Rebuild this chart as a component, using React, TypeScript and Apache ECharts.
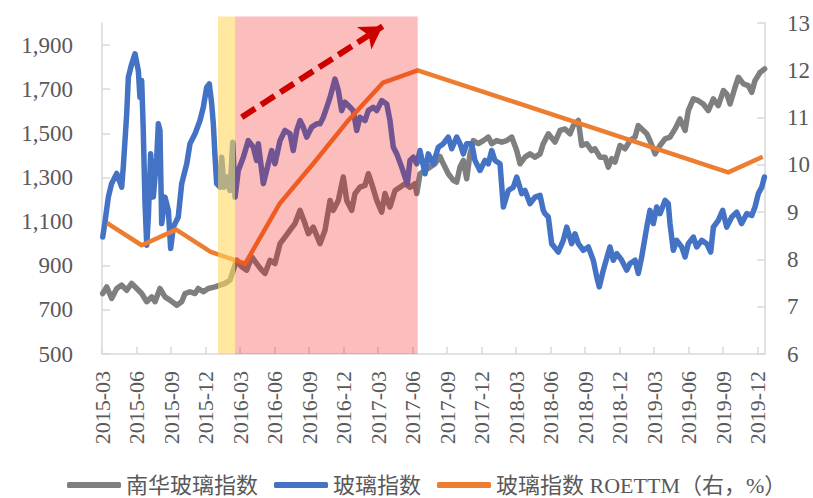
import React, { useEffect, useRef } from 'react';
import * as echarts from 'echarts';

// x positions are month offsets from 2015-03 (0 = 2015-03, 3 = 2015-06, ...)
const xTickMonths = [0, 3, 6, 9, 12, 15, 18, 21, 24, 27, 30, 33, 36, 39, 42, 45, 48, 51, 54, 57];
const xTickLabels = [
  '2015-03', '2015-06', '2015-09', '2015-12', '2016-03', '2016-06', '2016-09', '2016-12',
  '2017-03', '2017-06', '2017-09', '2017-12', '2018-03', '2018-06', '2018-09', '2018-12',
  '2019-03', '2019-06', '2019-09', '2019-12',
];
const leftTicks = [500, 700, 900, 1100, 1300, 1500, 1700, 1900];
const rightTicks = [6, 7, 8, 9, 10, 11, 12, 13];

const seriesNames = ['南华玻璃指数', '玻璃指数', '玻璃指数 ROETTM（右，%）'];

const nanhuaGlass: [number, number][] = [
  [0.06, 774], [0.41, 804], [0.84, 752], [1.28, 797], [1.71, 812], [2.15, 789], [2.58, 820],
  [3.02, 797], [3.45, 774], [3.89, 737], [4.32, 759], [4.61, 737], [5.04, 797], [5.48, 759],
  [5.91, 744], [6.5, 721], [6.93, 737], [7.22, 774], [7.65, 782], [8.09, 774], [8.37, 797],
  [8.81, 782], [9.24, 797], [9.83, 804], [10.26, 812], [10.7, 820], [11.13, 835], [11.42, 880],
  [11.71, 925], [12.15, 895], [12.58, 880], [13.02, 940], [13.45, 910], [13.89, 880], [14.17, 865],
  [14.61, 925], [15.04, 910], [15.48, 1000], [15.91, 1030], [16.35, 1061], [16.78, 1091],
  [17.22, 1151], [17.65, 1091], [17.94, 1045], [18.37, 1075], [18.96, 1000], [19.39, 1061],
  [19.83, 1196], [20.11, 1151], [20.55, 1196], [20.98, 1302], [21.28, 1196], [21.71, 1151],
  [22.0, 1227], [22.43, 1256], [22.87, 1264], [23.16, 1317], [23.45, 1272], [23.89, 1196],
  [24.32, 1143], [24.61, 1227], [25.04, 1166], [25.48, 1241], [25.91, 1256], [26.35, 1272],
  [26.78, 1256], [27.22, 1272], [27.37, 1227], [27.65, 1317], [28.09, 1332], [28.52, 1347],
  [28.96, 1362], [29.39, 1395], [29.68, 1362], [30.11, 1317], [30.55, 1287], [30.84, 1279],
  [31.13, 1347], [31.42, 1377], [31.71, 1294], [32.0, 1407], [32.29, 1467], [32.72, 1453],
  [33.16, 1467], [33.59, 1483], [33.89, 1453], [34.32, 1467], [34.76, 1460], [35.19, 1467],
  [35.63, 1483], [36.06, 1422], [36.35, 1362], [36.78, 1392], [37.22, 1407], [37.65, 1392],
  [38.09, 1407], [38.37, 1453], [38.81, 1498], [39.39, 1460], [39.83, 1513], [40.26, 1520],
  [40.7, 1498], [40.98, 1535], [41.42, 1558], [41.71, 1445], [42.15, 1453], [42.58, 1422],
  [42.87, 1430], [43.3, 1392], [43.74, 1392], [44.03, 1347], [44.32, 1385], [44.61, 1370],
  [45.04, 1445], [45.48, 1430], [45.91, 1467], [46.35, 1483], [46.63, 1535], [47.07, 1513],
  [47.37, 1498], [47.65, 1467], [48.09, 1407], [48.52, 1445], [48.96, 1475], [49.39, 1483],
  [49.83, 1520], [50.26, 1565], [50.7, 1513], [50.98, 1603], [51.42, 1656], [51.85, 1648],
  [52.28, 1633], [52.72, 1603], [53.16, 1656], [53.59, 1626], [54.03, 1694], [54.32, 1679],
  [54.61, 1633], [55.04, 1708], [55.33, 1754], [55.77, 1724], [56.2, 1716], [56.5, 1686],
  [56.78, 1739], [57.22, 1776], [57.62, 1792],
];

const glassIndex: [number, number][] = [
  [0.06, 1030], [0.26, 1098], [0.55, 1211], [0.84, 1273], [1.28, 1318], [1.71, 1256], [1.85, 1347],
  [2.15, 1590], [2.29, 1754], [2.58, 1814], [2.87, 1860], [3.16, 1784], [3.3, 1663], [3.45, 1739],
  [3.59, 1513], [3.74, 1183], [3.89, 993], [4.03, 1121], [4.23, 1407], [4.46, 1211], [4.76, 1392],
  [4.9, 1543], [5.04, 1513], [5.19, 1091], [5.48, 1211], [5.77, 1151], [5.97, 978], [6.2, 1075],
  [6.63, 1121], [6.93, 1272], [7.37, 1362], [7.65, 1453], [8.09, 1498], [8.52, 1558], [8.81, 1618],
  [9.1, 1708], [9.33, 1724], [9.54, 1633], [9.68, 1543], [9.83, 1392], [9.97, 1272], [10.26, 1256],
  [10.41, 1392], [10.61, 1256], [10.84, 1302], [11.13, 1241], [11.37, 1460], [11.57, 1211],
  [11.85, 1332], [12.29, 1392], [12.72, 1467], [13.16, 1437], [13.45, 1377], [13.59, 1453],
  [14.03, 1272], [14.46, 1362], [14.76, 1422], [15.04, 1362], [15.48, 1467], [15.91, 1513],
  [16.35, 1498], [16.63, 1422], [16.93, 1513], [17.22, 1558], [17.5, 1528], [17.8, 1483],
  [18.23, 1528], [18.67, 1543], [18.96, 1543], [19.24, 1573], [19.54, 1618], [19.83, 1663],
  [20.26, 1746], [20.55, 1694], [20.84, 1603], [21.13, 1641], [21.57, 1618], [21.85, 1603],
  [22.15, 1513], [22.43, 1573], [22.87, 1558], [23.16, 1603], [23.59, 1618], [23.89, 1603],
  [24.32, 1648], [24.76, 1633], [25.04, 1558], [25.33, 1437], [25.63, 1407], [26.06, 1347],
  [26.35, 1302], [26.55, 1272], [26.78, 1377], [27.07, 1392], [27.37, 1362], [27.65, 1422],
  [28.09, 1317], [28.37, 1407], [28.81, 1362], [29.24, 1437], [29.68, 1453], [30.11, 1483],
  [30.41, 1430], [30.84, 1483], [31.13, 1453], [31.42, 1407], [31.71, 1453], [32.15, 1453],
  [32.43, 1377], [32.87, 1332], [33.3, 1377], [33.59, 1362], [33.89, 1422], [34.17, 1377],
  [34.61, 1362], [34.9, 1166], [35.33, 1241], [35.77, 1256], [36.06, 1302], [36.5, 1227],
  [36.78, 1241], [37.22, 1181], [37.65, 1211], [38.09, 1219], [38.37, 1151], [38.52, 1136],
  [38.81, 1121], [39.1, 1000], [39.68, 962], [40.11, 1015], [40.41, 1075], [40.84, 1000],
  [41.13, 1045], [41.42, 1000], [41.85, 970], [42.29, 985], [42.72, 925], [43.02, 849],
  [43.24, 804], [43.59, 880], [44.17, 985], [44.46, 925], [44.76, 955], [45.19, 925], [45.63, 880],
  [45.91, 910], [46.35, 925], [46.63, 865], [46.93, 940], [47.37, 1075], [47.65, 1151],
  [47.94, 1091], [48.23, 1166], [48.52, 1136], [48.96, 1196], [49.24, 1181], [49.39, 1091],
  [49.68, 970], [49.97, 1015], [50.41, 985], [50.7, 940], [50.98, 1000], [51.42, 1030],
  [51.71, 985], [52.15, 1015], [52.58, 1000], [52.93, 962], [53.16, 1075], [53.59, 1106],
  [53.97, 1151], [54.32, 1075], [54.76, 1121], [55.19, 1143], [55.62, 1091], [56.06, 1136],
  [56.5, 1128], [56.78, 1166], [57.07, 1227], [57.37, 1256], [57.6, 1302],
];

const roeTTM: [number, number][] = [
  [0.45, 8.77], [3.45, 8.3], [6.45, 8.63], [9.45, 8.16], [12.45, 7.91], [15.45, 9.18],
  [18.45, 10.05], [21.45, 10.95], [24.45, 11.74], [27.45, 12.0], [54.45, 9.84], [57.45, 10.17],
];

// shaded periods [start, end] in month offsets
const highlightRanges: [number, number][] = [[10.09, 11.57], [11.57, 27.45]];
// dashed trend arrow [month, value]
const trendArrow: [number, number][] = [[12.15, 1573], [24.4, 1985]];

const FONT = '"Liberation Serif", "Noto Sans CJK SC", serif';
const TEXT = '#595959';
const AXIS = '#d9d9d9';

export default function App() {
  const ref = useRef<HTMLDivElement>(null);

  useEffect(() => {
    if (!ref.current) return;
    const chart = echarts.init(ref.current, null, { renderer: 'svg' });
    const shadeFills = ['rgba(255,215,95,0.6)', 'rgba(245,0,0,0.26)'];

    chart.setOption({
      animation: false,
      textStyle: { fontFamily: FONT },
      grid: { left: 102, right: 48, top: 23, bottom: 144, containLabel: false, outerBoundsMode: 'none' },
      legend: {
        data: seriesNames,
        left: 62,
        top: 469,
        icon: 'roundRect',
        itemWidth: 54,
        itemHeight: 6,
        itemGap: 16,
        textStyle: { fontSize: 22, color: TEXT, fontFamily: FONT },
      },
      xAxis: {
        type: 'value',
        min: 0,
        max: 57.65,
        interval: 3,
        splitLine: { show: false },
        axisLine: { show: true, lineStyle: { color: AXIS, width: 1.5 } },
        axisTick: { show: true, inside: true, length: 7, lineStyle: { color: AXIS, width: 1.5 }, customValues: xTickMonths },
        axisLabel: {
          rotate: 90,
          margin: 17,
          fontSize: 22,
          color: TEXT,
          fontFamily: FONT,
          customValues: xTickMonths,
          formatter: (v: number) => {
            const i = xTickMonths.indexOf(Math.round(v));
            return i >= 0 ? xTickLabels[i] : '';
          },
        },
      },
      yAxis: [
        {
          type: 'value',
          min: 500,
          max: 2000,
          interval: 200,
          splitLine: { show: false },
          axisLine: { show: true, lineStyle: { color: AXIS, width: 1.5 } },
          axisTick: { show: true, inside: true, length: 8, lineStyle: { color: AXIS, width: 1.5 }, customValues: leftTicks },
          axisLabel: {
            margin: 29,
            fontSize: 23,
            color: TEXT,
            fontFamily: FONT,
            customValues: leftTicks,
            formatter: (v: number) => v.toLocaleString('en-US'),
          },
        },
        {
          type: 'value',
          min: 6,
          max: 13,
          interval: 1,
          position: 'right',
          splitLine: { show: false },
          axisLine: { show: true, lineStyle: { color: AXIS, width: 1.5 } },
          axisTick: { show: true, inside: true, length: 8, lineStyle: { color: AXIS, width: 1.5 }, customValues: rightTicks },
          axisLabel: { margin: 22, fontSize: 23, color: TEXT, fontFamily: FONT, customValues: rightTicks },
        },
      ],
      series: [
        {
          name: seriesNames[0],
          type: 'line',
          data: nanhuaGlass,
          showSymbol: false,
          symbol: 'none',
          color: '#7f7f7f',
          lineStyle: { width: 5.5, color: '#7f7f7f', join: 'round', cap: 'round' },
          emphasis: { disabled: true },
          z: 2,
        },
        {
          name: seriesNames[1],
          type: 'line',
          data: glassIndex,
          showSymbol: false,
          symbol: 'none',
          color: '#4472c4',
          lineStyle: { width: 5.5, color: '#4472c4', join: 'round', cap: 'round' },
          emphasis: { disabled: true },
          z: 3,
        },
        {
          name: seriesNames[2],
          type: 'line',
          yAxisIndex: 1,
          data: roeTTM,
          showSymbol: false,
          symbol: 'none',
          color: '#ed7d31',
          lineStyle: { width: 4.5, color: '#ed7d31', join: 'round' },
          emphasis: { disabled: true },
          z: 4,
        },
        {
          name: 'shade',
          type: 'custom',
          silent: true,
          clip: false,
          z: 10,
          data: highlightRanges,
          encode: { x: [0, 1] },
          renderItem: (params: any, api: any) => {
            const p0 = api.coord([api.value(0), 500]);
            const p1 = api.coord([api.value(1), 2030]);
            return {
              type: 'rect',
              shape: { x: p0[0], y: p1[1], width: p1[0] - p0[0], height: p0[1] - p1[1] },
              style: { fill: shadeFills[params.dataIndex] },
            };
          },
        },
        {
          name: 'trend',
          type: 'line',
          data: [],
          z: 12,
          silent: true,
          markLine: {
            silent: true,
            symbol: ['none', 'arrow'],
            symbolSize: [20, 22],
            label: { show: false },
            lineStyle: { color: '#c00000', width: 6, type: [16, 7] },
            itemStyle: { color: '#c00000' },
            emphasis: { disabled: true },
            data: [[{ coord: trendArrow[0] }, { coord: trendArrow[1] }]],
          },
        },
      ],
    });

    return () => chart.dispose();
  }, []);

  return (
    <div
      ref={ref}
      style={{ position: 'fixed', left: 0, top: 0, width: 813, height: 498, background: '#fff' }}
    />
  );
}
